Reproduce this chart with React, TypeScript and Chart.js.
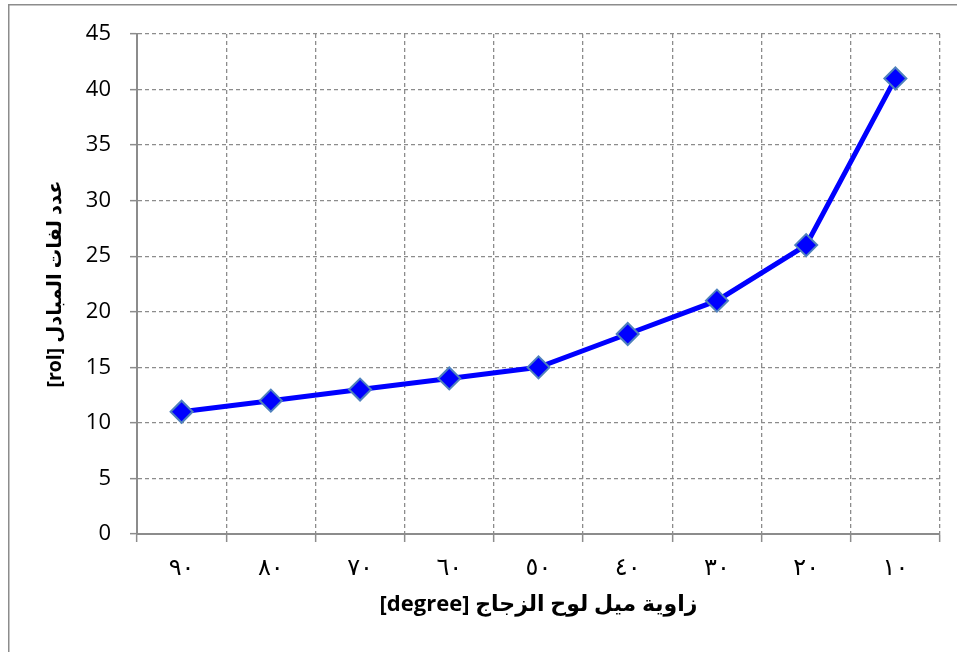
import React, { useEffect, useRef } from "react";
import { Chart, registerables } from "chart.js";

Chart.register(...registerables);

// Plate tilt angle categories (Arabic-Indic digits) and number of heat-exchanger turns
const angleLabels: string[] = ["٩٠", "٨٠", "٧٠", "٦٠", "٥٠", "٤٠", "٣٠", "٢٠", "١٠"];
const turnCounts: number[] = [11, 12, 13, 14, 15, 18, 21, 26, 41];
const yTicks = { min: 0, max: 45, step: 5 };

const xTitle = "[degree] زاوية ميل لوح الزجاج";
const yTitle = "[rol] عدد لفات المبادل";

const GRID = "#8c8c8c";

// Frame around the whole chart
const framePlugin = {
  id: "frame",
  beforeDraw(chart: Chart) {
    const ctx = chart.ctx;
    ctx.save();
    ctx.fillStyle = "#ffffff";
    ctx.fillRect(0, 0, chart.width, chart.height);
    ctx.strokeStyle = GRID;
    ctx.lineWidth = 1.5;
    ctx.strokeRect(8.75, 4.75, chart.width, chart.height);
    ctx.restore();
  },
};

export default function App() {
  const canvasRef = useRef<HTMLCanvasElement | null>(null);

  useEffect(() => {
    if (!canvasRef.current) return;
    const chart = new Chart(canvasRef.current, {
      type: "line",
      data: {
        labels: angleLabels,
        datasets: [
          {
            data: turnCounts,
            borderColor: "#0000ff",
            borderWidth: 5,
            tension: 0,
            pointStyle: "rectRot",
            pointRadius: 11,
            pointBackgroundColor: "#0000ff",
            pointBorderColor: "#4f81bd",
            pointBorderWidth: 2,
          },
        ],
      },
      options: {
        responsive: false,
        animation: false,
        layout: { padding: { top: 34, right: 17, left: 0, bottom: 0 } },
        plugins: { legend: { display: false }, tooltip: { enabled: false } },
        scales: {
          x: {
            type: "category",
            offset: true,
            grid: {
              offset: true,
              color: GRID,
              lineWidth: 1.3,
              drawTicks: true,
              tickLength: 8,
              tickColor: GRID,
              tickWidth: 1.5,
              tickBorderDash: [],
            },
            border: { display: true, color: GRID, width: 2, dash: [4, 3] },
            ticks: {
              color: "#000",
              padding: 12,
              maxRotation: 0,
              font: { family: "'DejaVu Sans'", size: 24 },
            },
            title: {
              display: true,
              text: xTitle,
              color: "#000",
              font: { family: "'Open Sans', 'DejaVu Sans'", size: 22, weight: "bold" },
              padding: { top: 0, bottom: 34 },
            },
            afterFit: (scale: any) => {
              scale.height = 118;
            },
          },
          y: {
            min: yTicks.min,
            max: yTicks.max,
            grid: {
              color: GRID,
              lineWidth: 1.3,
              drawTicks: true,
              tickLength: 7,
              tickColor: GRID,
              tickWidth: 1.5,
              tickBorderDash: [],
            },
            border: { display: true, color: GRID, width: 2, dash: [4, 3] },
            ticks: {
              stepSize: yTicks.step,
              color: "#000",
              padding: 19,
              font: { family: "'Open Sans'", size: 22 },
            },
            title: {
              display: true,
              text: yTitle,
              color: "#000",
              font: { family: "'Open Sans', 'DejaVu Sans'", size: 19.5, weight: "bold" },
              padding: { top: 44, bottom: 0 },
            },
            afterFit: (scale: any) => {
              scale.width = 137;
            },
          },
        },
      },
      plugins: [framePlugin],
    });
    return () => chart.destroy();
  }, []);

  return (
    <div style={{ position: "absolute", left: 0, top: 0, width: 957, height: 652 }}>
      <canvas ref={canvasRef} width={957} height={652} />
    </div>
  );
}
